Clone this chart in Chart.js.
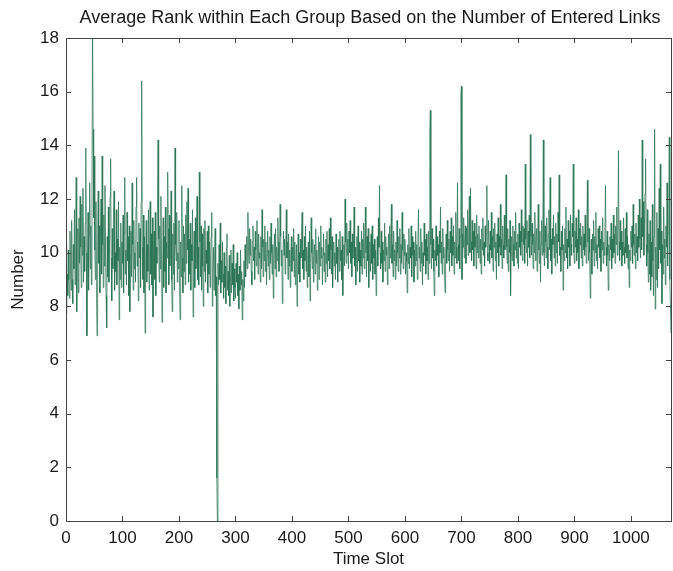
<!DOCTYPE html>
<html>
<head>
<meta charset="utf-8">
<script src="https://cdn.jsdelivr.net/npm/chart.js@4.4.1/dist/chart.umd.min.js"></script>
<style>
    html, body { margin: 0; padding: 0; background: #ffffff; }
    #wrap { width: 673px; height: 571px; }
</style>
</head>
<body>
<div id="wrap"><canvas id="chart" width="673" height="571"></canvas></div>
<script>
const chartTitle = "Average Rank within Each Group Based on the Number of Entered Links";
const xTitle = "Time Slot";
const yTitle = "Number";

const xTicks = [0, 100, 200, 300, 400, 500, 600, 700, 800, 900, 1000];
const yTicks = [0, 2, 4, 6, 8, 10, 12, 14, 16, 18];

// average rank per time slot in blocks of 100 slots
const rank0 = [10.4,7.7,9.2,8.4,10.1,9.0,8.3,10.8,9.5,8.6, 11.2,9.0,8.1,10.3,9.4,11.6,8.8,10.0,12.8,7.8,
    9.7,10.9,8.5,11.3,9.6,12.1,10.2,8.7,11.8,9.9, 12.4,8.9,10.6,9.3,11.1,13.9,10.0,6.9,9.8,11.5,
    8.6,10.7,12.6,9.4,11.0,8.8,12.2,18.5,14.6,11.3, 13.6,10.1,9.0,11.9,8.3,6.9,10.5,12.3,9.6,11.0,
    8.5,10.8,12.0,9.2,13.6,10.3,8.7,11.4,9.5,12.5, 10.0,8.4,7.2,10.6,9.1,11.7,8.9,10.2,12.1,13.5,
    9.8,8.2,10.9,9.4,11.3,12.3,8.6,10.0,9.3,11.6, 8.8,10.5,9.7,11.9,7.5,10.2,9.0,11.1,8.7,10.4];
const rank100 = [9.6,11.4,8.5,10.7,12.8,9.2,10.1,8.8,11.5,9.7, 10.6,8.4,11.0,7.8,9.9,10.8,9.1,12.6,10.3,8.6,
    11.2,9.4,10.0,8.9,11.7,12.8,9.5,10.4,8.2,11.1, 9.8,10.9,8.7,11.9,16.4,10.2,9.0,11.4,8.5,10.6,
    7.0,9.7,11.2,8.9,10.3,9.3,11.6,8.6,10.1,11.9, 9.2,10.7,8.8,11.3,7.6,9.9,10.8,9.0,11.5,8.4,
    10.2,9.6,11.8,14.2,10.5,8.9,11.0,9.4,12.1,10.0, 7.4,9.1,11.3,8.7,10.6,9.3,11.7,8.5,10.4,9.8,
    13.0,10.9,8.8,11.4,9.5,10.1,12.3,9.0,7.8,10.7, 9.2,11.1,8.6,13.9,10.3,9.7,11.5,8.9,10.0,9.4];
const rank200 = [11.2,8.7,7.5,10.4,9.1,12.5,9.8,8.5,11.0,9.3, 10.7,8.8,11.4,9.6,11.9,10.1,12.4,8.9,10.5,9.2,
    11.1,8.6,10.3,9.7,11.6,7.6,9.9,10.8,8.7,11.3, 9.4,10.6,12.1,9.0,10.2,8.8,13.0,10.4,9.1,11.0,
    8.6,10.7,9.5,8.0,10.9,9.3,11.2,8.9,10.1,9.6, 10.8,8.5,11.0,9.2,10.4,8.7,9.9,10.6,11.5,8.0,
    9.4,10.2,8.6,9.8,10.9,8.4,9.1,1.6,0.0,9.6, 8.8,10.3,9.0,11.1,8.5,9.7,8.9,10.4,9.2,8.3,
    10.0,8.7,9.5,8.1,10.2,10.7,8.6,9.3,8.4,9.9, 8.0,9.1,10.1,8.5,9.6,8.8,10.3,8.2,9.4,8.7];
const rank300 = [8.3,9.6,8.9,10.0,8.4,9.2,7.9,9.5,8.6,10.1, 8.8,9.3,7.5,9.0,8.2,9.7,8.7,10.3,9.1,9.8,
    10.6,9.4,11.5,10.2,9.6,10.9,9.9,10.5,9.3,8.8, 10.4,11.0,9.7,10.2,9.0,10.8,10.1,9.5,11.2,10.3,
    9.2,10.7,9.8,10.0,8.9,10.6,9.4,11.6,10.2,9.1, 10.5,9.7,11.0,9.3,10.4,8.8,9.9,10.8,9.5,10.1,
    9.0,10.6,9.6,11.1,10.0,9.2,10.3,8.3,9.8,10.7, 9.4,10.9,9.1,10.2,9.7,11.3,10.4,9.3,10.0,11.8,
    10.6,9.5,10.1,8.1,9.6,10.8,9.9,10.5,9.2,10.3, 11.6,9.8,10.4,9.0,10.7,9.5,10.1,8.7,9.9,10.6];
const rank400 = [9.3,10.2,9.7,10.9,9.1,10.4,8.8,9.6,10.3,8.0, 9.5,10.7,9.2,10.0,8.9,10.5,9.8,10.8,11.5,9.4,
    10.1,9.0,10.6,9.7,11.0,9.3,10.2,8.7,9.9,10.4, 9.1,10.8,8.2,9.6,11.3,10.0,9.4,10.5,8.9,9.8,
    10.3,9.2,10.9,9.6,10.1,8.6,9.7,10.6,9.0,10.4, 9.5,11.0,9.8,10.2,8.8,9.9,10.7,9.3,10.0,8.9,
    10.5,9.6,10.8,9.1,10.3,9.7,10.9,9.4,11.3,10.1, 9.2,10.6,8.7,9.8,10.4,9.5,10.0,9.0,10.7,9.6,
    10.2,8.9,9.9,10.5,9.3,10.8,9.7,10.1,9.0,10.6, 8.4,9.8,10.3,9.5,12.0,10.4,9.6,11.1,9.9,10.5];
const rank500 = [9.4,10.8,10.0,11.2,9.6,10.4,9.1,10.7,9.8,10.3, 11.7,9.5,10.2,8.8,9.9,10.6,9.3,11.0,9.7,10.4,
    8.9,10.1,9.5,10.8,9.2,10.5,9.8,11.1,9.4,10.2, 11.7,10.0,9.1,10.6,9.7,10.9,8.7,9.9,10.4,9.3,
    10.7,9.6,11.0,9.0,10.3,9.8,10.5,9.2,10.1,8.4, 9.7,10.6,9.5,11.3,10.2,12.5,10.0,9.4,10.8,9.6,
    10.4,8.9,10.1,9.7,11.1,9.3,10.6,9.9,10.2,8.8, 10.0,10.7,9.4,11.0,9.8,10.5,11.8,9.6,10.3,9.1,
    10.8,9.7,10.1,9.0,10.4,9.5,11.2,10.0,9.3,10.6, 9.8,10.9,9.2,10.3,9.6,11.5,10.1,9.4,10.7,9.9];
const rank600 = [10.5,9.2,10.0,9.7,8.5,10.3,9.6,10.9,9.4,10.2, 9.8,11.0,9.1,10.6,9.9,10.4,8.9,10.1,9.5,10.8,
    9.7,10.3,9.0,10.6,11.6,9.8,10.2,9.3,10.9,9.6, 10.4,8.8,10.0,9.5,11.1,9.9,10.5,9.2,10.7,9.7,
    10.2,9.0,10.8,9.6,14.4,15.3,10.3,9.4,10.9,9.8, 10.5,9.3,8.4,10.1,9.7,11.0,9.5,10.6,9.9,10.3,
    9.1,10.8,10.0,11.7,9.6,10.4,9.2,10.9,9.8,10.2, 9.4,8.5,10.0,10.7,9.6,11.2,10.1,9.7,10.5,9.3,
    10.8,10.0,11.3,9.5,10.6,9.9,11.0,9.2,10.4,9.8, 11.5,10.2,9.6,12.6,10.3,9.7,10.9,9.4,10.6,15.9];
const rank700 = [16.2,9.0,10.7,10.2,11.3,9.8,10.5,11.0,9.6,10.9, 10.3,11.6,9.9,10.6,12.1,10.0,12.4,10.4,9.7,11.2,
    10.1,10.8,9.5,11.1,10.2,10.6,9.4,11.4,10.0,10.7, 9.8,11.0,10.3,9.6,10.5,9.2,10.9,10.1,11.3,9.9,
    10.4,9.5,11.0,10.2,10.7,12.5,10.0,9.7,11.2,10.3, 9.6,10.8,10.1,11.5,9.8,10.6,9.3,10.9,10.2,11.1,
    9.7,10.4,9.0,10.7,10.0,11.3,9.5,10.6,10.2,11.8, 9.9,10.5,9.4,11.0,10.3,9.8,11.4,10.1,10.7,12.9,
    10.2,9.6,10.9,9.3,10.5,10.0,11.2,8.4,9.9,10.6, 9.7,11.0,10.3,9.5,10.8,10.1,11.5,9.8,10.4,9.6];
const rank800 = [10.7,9.4,11.1,10.2,10.8,9.9,11.6,10.4,9.7,11.0, 10.3,10.9,9.6,13.3,10.5,10.0,11.2,9.5,10.8,10.2,
    11.4,9.8,14.4,10.6,9.9,11.1,10.3,9.4,10.7,10.0, 11.5,9.7,10.4,10.9,9.3,10.6,11.8,10.1,9.6,10.8,
    8.9,10.3,11.2,9.9,10.5,14.2,10.0,9.5,11.0,10.4, 9.8,11.3,10.2,9.4,10.7,11.6,10.1,12.8,9.7,10.5,
    9.2,10.9,10.3,11.4,9.8,10.6,9.5,11.1,10.0,10.7, 9.6,11.5,10.4,12.9,9.9,10.2,9.3,10.8,10.1,11.0,
    8.6,10.3,9.7,10.9,10.0,11.7,9.8,10.5,9.4,11.2, 10.2,10.8,9.5,11.4,10.3,9.9,11.1,10.6,13.3,10.0];
const rank900 = [9.6,10.8,10.2,11.3,9.7,10.5,10.0,11.6,9.4,10.9, 10.3,11.1,9.8,10.6,9.5,11.0,10.1,10.7,9.9,11.4,
    10.2,9.6,10.8,12.7,10.4,9.7,10.9,10.0,8.3,9.8, 10.5,9.2,10.7,10.1,11.2,9.5,10.6,10.0,11.5,9.7,
    10.3,9.4,10.9,10.2,11.0,9.8,10.5,9.3,10.8,10.1, 11.3,9.6,10.4,9.9,10.7,12.5,10.2,9.5,10.8,9.9,
    8.6,10.3,9.7,10.6,10.1,11.1,9.4,10.5,9.8,11.4, 10.0,10.7,9.6,11.0,10.3,11.7,9.9,10.6,13.8,10.4,
    9.7,11.2,10.1,10.8,9.5,10.4,9.9,11.3,10.2,9.6, 10.9,10.0,11.5,9.8,10.6,9.4,10.3,8.7,10.1,9.7];
const rank1000 = [10.8,10.2,11.0,9.6,11.8,10.3,9.9,10.7,9.4,11.1, 10.0,10.6,9.7,11.4,10.2,12.0,10.5,9.8,11.3,10.1,
    14.2,10.6,11.9,9.9,10.8,12.2,13.5,10.3,9.5,11.6, 10.0,8.9,10.7,9.2,11.2,8.6,10.4,9.1,11.8,9.7,
    8.4,10.6,14.6,7.9,10.2,9.0,11.5,8.7,10.9,9.4, 12.4,10.1,13.3,9.6,10.8,8.1,10.3,9.2,11.7,9.8,
    10.5,8.8,11.0,10.2,12.6,9.5,10.7,11.3,14.3,9.0, 8.0,7.0];

const rankValues = [].concat(rank0, rank100, rank200, rank300, rank400, rank500,
    rank600, rank700, rank800, rank900, rank1000);
const timeSlots = rankValues.map(function(v, i) { return i; });

const fontFamily = "'Liberation Sans', Arial, Helvetica, sans-serif";
const axisColor = "#444444";
const textColor = "#1a1a1a";
const lineColor = "#2a7353";

// MATLAB style frame with inward ticks on all four sides + title
const framePlugin = {
    id: "frame",
    afterDraw: function(chart) {
        const ctx = chart.ctx;
        const area = chart.chartArea;
        const xs = chart.scales.x;
        const ys = chart.scales.y;
        const tick = 5;

        ctx.save();
        ctx.strokeStyle = axisColor;
        ctx.lineWidth = 1;
        ctx.strokeRect(Math.round(area.left) + 0.5, Math.round(area.top) + 0.5,
            Math.round(area.right - area.left), Math.round(area.bottom - area.top));

        ctx.beginPath();
        xs.ticks.forEach(function(t) {
            const px = Math.round(xs.getPixelForValue(t.value)) + 0.5;
            ctx.moveTo(px, area.bottom);
            ctx.lineTo(px, area.bottom - tick);
            ctx.moveTo(px, area.top);
            ctx.lineTo(px, area.top + tick);
        });
        ys.ticks.forEach(function(t) {
            const py = Math.round(ys.getPixelForValue(t.value)) + 0.5;
            ctx.moveTo(area.left, py);
            ctx.lineTo(area.left + tick, py);
            ctx.moveTo(area.right, py);
            ctx.lineTo(area.right - tick, py);
        });
        ctx.stroke();

        ctx.fillStyle = textColor;
        ctx.font = "18px " + fontFamily;
        ctx.textAlign = "center";
        ctx.textBaseline = "alphabetic";
        ctx.fillText(chartTitle, 370, 23);
        ctx.restore();
    }
};

const ctx = document.getElementById("chart");
let chart = new Chart(ctx, {
    type: "line",
    data: {
        labels: timeSlots,
        datasets: [{
            label: "Average rank",
            data: rankValues,
            borderColor: lineColor,
            borderWidth: 0.75,
            pointRadius: 0,
            tension: 0,
            fill: false
        }]
    },
    options: {
        responsive: false,
        animation: false,
        layout: { padding: { top: 38, right: 2, left: 0, bottom: 0 } },
        plugins: {
            legend: { display: false },
            tooltip: { enabled: false }
        },
        scales: {
            x: {
                type: "linear",
                min: 0,
                max: 1071,
                afterFit: function(scale) { scale.height = 50; },
                afterBuildTicks: function(scale) {
                    scale.ticks = xTicks.map(function(v) { return { value: v }; });
                },
                grid: { display: false, drawTicks: false },
                border: { display: false },
                ticks: {
                    color: textColor,
                    padding: 7,
                    maxRotation: 0,
                    autoSkip: false,
                    font: { family: fontFamily, size: 17 },
                    callback: function(value) { return String(value); }
                },
                title: {
                    display: true,
                    text: xTitle,
                    color: textColor,
                    padding: { top: 0, bottom: 1 },
                    font: { family: fontFamily, size: 17 }
                }
            },
            y: {
                min: 0,
                max: 18,
                afterFit: function(scale) { scale.width = 66; },
                afterBuildTicks: function(scale) {
                    scale.ticks = yTicks.map(function(v) { return { value: v }; });
                },
                grid: { display: false, drawTicks: false },
                border: { display: false },
                ticks: {
                    color: textColor,
                    padding: 7,
                    autoSkip: false,
                    font: { family: fontFamily, size: 17 },
                    callback: function(value) { return String(value); }
                },
                title: {
                    display: true,
                    text: yTitle,
                    color: textColor,
                    padding: { top: 8, bottom: 0 },
                    font: { family: fontFamily, size: 17 }
                }
            }
        }
    },
    plugins: [framePlugin]
});
</script>
</body>
</html>
